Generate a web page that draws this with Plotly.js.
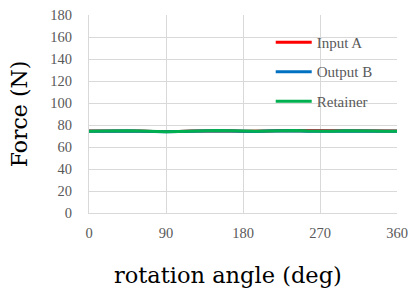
<!DOCTYPE html>
<html><head><meta charset="utf-8">
<script src="https://cdn.plot.ly/plotly-3.0.1.min.js"></script>
<style>body{margin:0}#c{width:408px;height:288px}</style>
</head><body><div id="c"></div>
<script>
const angles = [0,15,30,45,60,75,90,105,120,135,150,165,180,195,210,225,240,255,270,285,300,315,330,345,360];
const inputA = [74.5,74.6,74.8,74.7,74.5,74.2,74.0,74.2,74.6,74.8,74.9,74.7,74.4,74.3,74.6,74.9,74.8,74.5,74.3,74.4,74.7,74.8,74.6,74.4,74.5];
const outputB = [74.3,74.5,74.7,74.6,74.3,74.0,73.9,74.1,74.5,74.7,74.8,74.5,74.2,74.2,74.5,74.8,74.7,74.4,74.2,74.3,74.6,74.7,74.5,74.3,74.3];
const retainer = [74.4,74.6,74.9,74.8,74.5,74.1,73.9,74.2,74.6,74.9,75.0,74.7,74.3,74.3,74.6,75.0,74.9,74.5,74.3,74.4,74.8,74.9,74.6,74.4,74.4];
const seriesNames = ['Input A','Output B','Retainer'];
const colors = ['#ff0000','#0070c0','#00b050'];
const xTicks = [0,90,180,270,360];
const yTicks = [0,20,40,60,80,100,120,140,160,180];
const xTitle = 'rotation angle (deg)';
const yTitle = 'Force (N)';
const serif = 'Liberation Serif, Times New Roman, serif';
const wide = 'DejaVu Serif, serif';
const data = [inputA, outputB, retainer].map((v,i)=>({
  x: angles, y: v, type:'scatter', mode:'lines', name: seriesNames[i],
  legendgroup: 'g'+i,
  line:{color:colors[i], width:3}
}));
const layout = {
  width:408, height:288,
  margin:{l:89, r:11, t:15, b:75},
  paper_bgcolor:'#fff', plot_bgcolor:'#fff',
  showlegend:true,
  legend:{x:0.59, y:0.945, xanchor:'left', yanchor:'top', bgcolor:'rgba(0,0,0,0)',
    font:{family:serif, size:15, color:'#595959'}, tracegroupgap:7, itemwidth:36},
  xaxis:{range:[0,360], tickvals:xTicks, ticktext:xTicks.map(String), showgrid:true,
    gridcolor:'#d9d9d9', gridwidth:1, zeroline:false, showline:true, linecolor:'#d9d9d9',
    ticks:'', ticklabelstandoff:7,
    tickfont:{family:serif, size:14.5, color:'#595959'}},
  yaxis:{range:[0,180], tickvals:yTicks, ticktext:yTicks.map(String), showgrid:true,
    gridcolor:'#d9d9d9', gridwidth:1, zeroline:false, showline:true, linecolor:'#d9d9d9',
    ticks:'', ticklabelstandoff:13, tickfont:{family:serif, size:14.5, color:'#595959'},
    title:{text:yTitle, font:{family:wide, size:22, color:'#000'}, standoff:16}},
  annotations:[{text:xTitle, xref:'paper', yref:'paper', x:0.451, y:-0.313,
    xanchor:'center', yanchor:'middle', showarrow:false,
    font:{family:wide, size:22.5, color:'#000'}}]
};
Plotly.newPlot('c', data, layout, {displayModeBar:false, staticPlot:true});
</script></body></html>
